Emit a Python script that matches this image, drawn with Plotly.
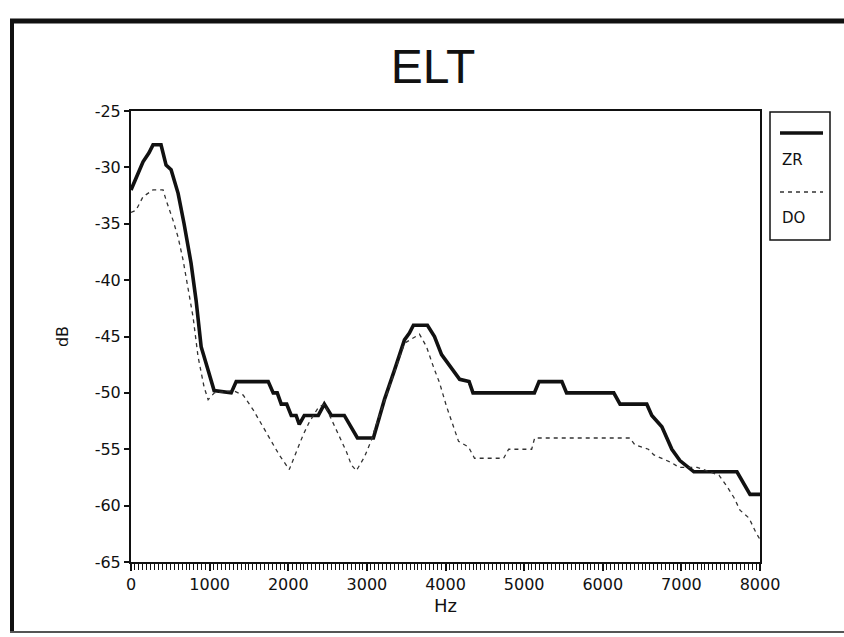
import plotly.graph_objects as go

# ---- data ----
zr_hz = [0, 60, 153, 229, 280, 382, 446, 510, 599, 675, 764, 828, 892, 981, 1057,
         1274, 1338, 1745, 1809, 1860, 1911, 1980, 2038, 2100, 2140, 2204, 2382,
         2459, 2548, 2713, 2803, 2880, 3083, 3121, 3223, 3350, 3478, 3541, 3592,
         3770, 3860, 3950, 4080, 4180, 4300, 4350, 5130, 5190, 5480, 5540, 6140,
         6220, 6560, 6624, 6752, 6879, 6981, 7159, 7707, 7796, 7873, 8000]
zr_db = [-32, -31, -29.5, -28.7, -28, -28, -29.8, -30.2, -32.3, -35, -38.5, -41.8,
         -45.9, -48, -49.8, -50, -49, -49, -50, -50, -51, -51, -52, -52, -52.8, -52,
         -52, -51, -52, -52, -53, -54, -54, -53, -50.6, -48, -45.3, -44.7, -44, -44,
         -45, -46.6, -47.8, -48.8, -49, -50, -50, -49, -49, -50, -50, -51, -51, -52,
         -53, -55, -56, -57, -57, -58, -59, -59]

do_hz = [0, 64, 153, 280, 408, 446, 535, 599, 662, 726, 790, 853, 930, 981, 1060,
         1300, 1427, 1554, 1656, 1783, 1885, 2013, 2102, 2191, 2267, 2382, 2459,
         2573, 2650, 2739, 2803, 2866, 2968, 3057, 3096, 3223, 3350, 3478, 3669,
         3758, 3847, 3924, 4013, 4102, 4166, 4293, 4369, 4739, 4803, 5096, 5134,
         6344, 6408, 6580, 6650, 6879, 6968, 7200, 7478, 7580, 7670, 7745, 7860,
         7949, 8000]
do_db = [-34, -33.8, -32.6, -32, -32, -32.9, -34.7, -36.2, -38.2, -40.6, -43.3,
         -46.8, -49.5, -50.6, -50, -49.8, -50.2, -51.5, -52.7, -54.3, -55.5, -56.8,
         -55.2, -53.7, -52.6, -51.3, -51, -52.7, -54, -55.2, -56.4, -56.9, -55.7,
         -54.2, -53.3, -50.8, -48.2, -45.6, -44.8, -45.9, -47.7, -49.1, -51.2, -53,
         -54.3, -54.8, -55.8, -55.8, -55, -55, -54, -54, -54.6, -55, -55.5, -56.2,
         -56.6, -56.6, -57.3, -58.3, -59.3, -60.4, -61.1, -62.4, -63]

series_names = ["ZR", "DO"]
x_ticks = [0, 1000, 2000, 3000, 4000, 5000, 6000, 7000, 8000]
y_ticks = [-65, -60, -55, -50, -45, -40, -35, -30, -25]

W, H = 844, 637
L, R, T, B = 131, 84, 111, 75
pw, ph = W - L - R, H - T - B

def px(x):
    return (x - L) / pw

def py(y):
    return (H - B - y) / ph

fig = go.Figure()
fig.add_trace(go.Scatter(x=zr_hz, y=zr_db, mode="lines", name=series_names[0],
                         line=dict(color="#111111", width=3.6)))
fig.add_trace(go.Scatter(x=do_hz, y=do_db, mode="lines", name=series_names[1],
                         line=dict(color="#333333", width=1.3, dash="4px,4px")))

font_ticks = dict(family="DejaVu Sans", size=16, color="#111111")

fig.update_layout(
    width=W, height=H,
    margin=dict(l=L, r=R, t=T, b=B),
    paper_bgcolor="white", plot_bgcolor="white",
    showlegend=False,
    title=dict(text="ELT", x=0.513, y=1 - 66 / H, xref="container", yref="container",
               xanchor="center", yanchor="middle",
               font=dict(family="Liberation Sans", size=48, color="#111111")),
    xaxis=dict(range=[0, 8000], tickvals=x_ticks, ticktext=[str(v) for v in x_ticks],
               ticks="outside", ticklen=7, tickwidth=1.5, tickcolor="#111111",
               minor=dict(dtick=50, ticks="outside", ticklen=6, tickwidth=1.2,
                          tickcolor="#111111"),
               showline=True, linewidth=2, linecolor="#111111", mirror=True,
               showgrid=False, zeroline=False, tickfont=font_ticks,
               title=dict(text="Hz", standoff=6,
                          font=dict(family="DejaVu Sans", size=18, color="#111111"))),
    yaxis=dict(range=[-65, -25], tickvals=y_ticks, ticktext=[str(v) for v in y_ticks],
               ticks="outside", ticklen=5, tickwidth=1.5, tickcolor="#111111",
               showline=True, linewidth=2, linecolor="#111111", mirror=True,
               showgrid=False, zeroline=False, tickfont=font_ticks,
               title=dict(text="dB", standoff=22,
                          font=dict(family="DejaVu Sans", size=16, color="#111111"))),
)

# custom legend box (symbols above labels, as in the reference)
shapes = [
    dict(type="rect", xref="paper", yref="paper", x0=px(770), x1=px(830),
         y0=py(240), y1=py(112), line=dict(color="#111111", width=1.5)),
    dict(type="line", xref="paper", yref="paper", x0=px(780), x1=px(823),
         y0=py(133), y1=py(133), line=dict(color="#111111", width=3.6)),
    dict(type="line", xref="paper", yref="paper", x0=px(780), x1=px(823),
         y0=py(192), y1=py(192), line=dict(color="#333333", width=1.3, dash="4px,4px")),
    # outer frame: thick top and left, thin grey bottom
    dict(type="line", xref="paper", yref="paper", x0=px(10), x1=px(870),
         y0=py(21), y1=py(21), line=dict(color="#111111", width=5)),
    dict(type="line", xref="paper", yref="paper", x0=px(12), x1=px(12),
         y0=py(19), y1=py(633), line=dict(color="#111111", width=4)),
    dict(type="line", xref="paper", yref="paper", x0=px(10), x1=px(870),
         y0=py(632), y1=py(632), line=dict(color="#555555", width=2)),
]
annotations = [
    dict(text=series_names[0], xref="paper", yref="paper", x=px(792), y=py(160),
         xanchor="center", yanchor="middle", showarrow=False,
         font=dict(family="DejaVu Sans", size=15, color="#111111")),
    dict(text=series_names[1], xref="paper", yref="paper", x=px(794), y=py(218),
         xanchor="center", yanchor="middle", showarrow=False,
         font=dict(family="DejaVu Sans", size=15, color="#111111")),
]
fig.update_layout(shapes=shapes, annotations=annotations)

fig.write_html("out.html")
